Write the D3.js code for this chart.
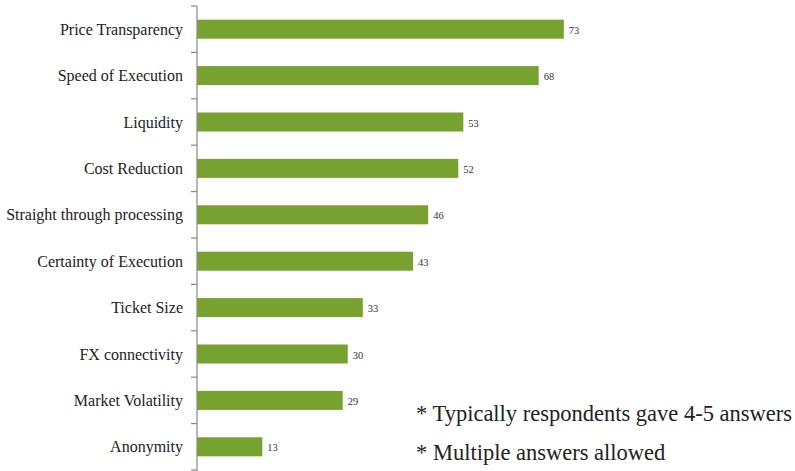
<!DOCTYPE html>
<html>
<head>
<meta charset="utf-8">
<script src="https://cdn.jsdelivr.net/npm/d3@7"></script>
<style>
  body { margin: 0; background: #fff; }
  svg { display: block; font-family: 'Liberation Serif', 'DejaVu Serif', serif; }
  .cat { font-size: 16px; fill: #222; }
  .val { font-size: 10.5px; fill: #333; }
  .note { font-size: 22.5px; fill: #222; }
</style>
</head>
<body>
<svg id="chart" width="795" height="471"></svg>
<script>
// chart data
const categories = ['Price Transparency', 'Speed of Execution', 'Liquidity', 'Cost Reduction',
  'Straight through processing', 'Certainty of Execution', 'Ticket Size', 'FX connectivity',
  'Market Volatility', 'Anonymity']
const values = [73, 68, 53, 52, 46, 43, 33, 30, 29, 13]
const notes = ['* Typically respondents gave 4-5 answers', '* Multiple answers allowed']

const margin = {top: 6, left: 197}
const svg = d3.select('#chart')

const x = d3.scaleLinear().domain([0, 80]).range([margin.left, margin.left + 402])
const y = d3.scaleBand().domain(categories).range([margin.top, margin.top + 464]).paddingInner(0.59).paddingOuter(0.295)

// bars
svg.append('g').selectAll('rect')
  .data(values)
  .join('rect')
  .attr('x', x(0))
  .attr('y', (d, i) => y(categories[i]))
  .attr('width', d => x(d) - x(0))
  .attr('height', y.bandwidth())
  .attr('fill', '#77a22f')

// value labels
svg.append('g').selectAll('text')
  .data(values)
  .join('text')
  .attr('class', 'val')
  .attr('x', d => x(d) + 5)
  .attr('y', (d, i) => y(categories[i]) + y.bandwidth() / 2 + 1)
  .attr('dy', '0.35em')
  .text(d => d)

// axis with ticks at category boundaries
const step = y.step()
const axis = svg.append('g')
axis.append('line')
  .attr('x1', x(0)).attr('x2', x(0))
  .attr('y1', margin.top).attr('y2', 471)
  .attr('stroke', '#888').attr('stroke-width', 1.2)
axis.selectAll('.tick')
  .data(d3.range(categories.length + 1))
  .join('line')
  .attr('x1', x(0) - 6).attr('x2', x(0))
  .attr('y1', i => margin.top + i * step)
  .attr('y2', i => margin.top + i * step)
  .attr('stroke', '#888').attr('stroke-width', 1.2)

// category labels
svg.append('g').selectAll('text')
  .data(categories)
  .join('text')
  .attr('class', 'cat')
  .attr('x', x(0) - 14)
  .attr('y', d => y(d) + y.bandwidth() / 2)
  .attr('dy', '0.35em')
  .attr('text-anchor', 'end')
  .text(d => d)

// notes
svg.append('g').selectAll('text')
  .data(notes)
  .join('text')
  .attr('class', 'note')
  .attr('x', 416)
  .attr('y', (d, i) => 421 + i * 39)
  .text(d => d)
</script>
</body>
</html>
